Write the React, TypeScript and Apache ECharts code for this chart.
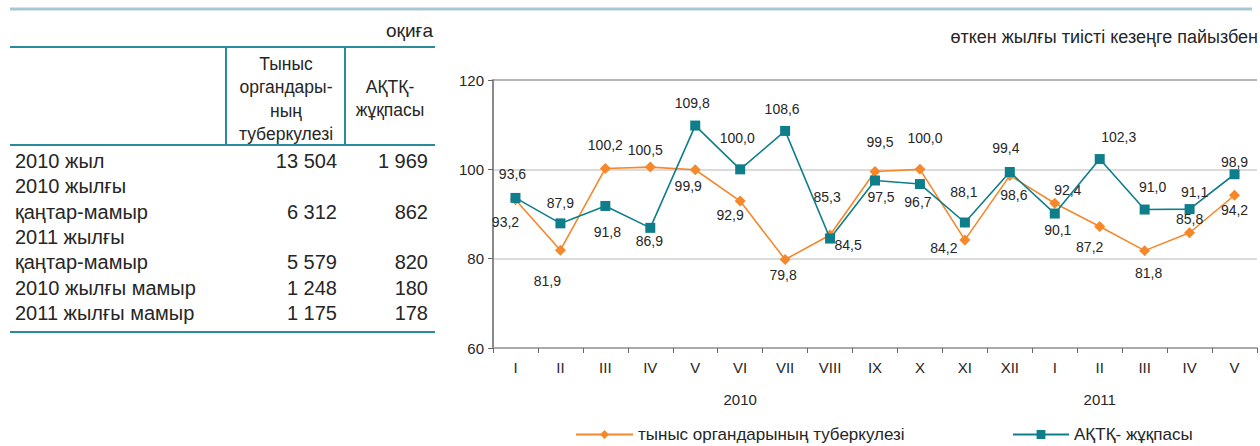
import React, { useEffect, useRef } from "react";
import * as echarts from "echarts";

// ---------- data ----------
const months = ["I", "II", "III", "IV", "V", "VI", "VII", "VIII", "IX", "X", "XI", "XII", "I", "II", "III", "IV", "V"];
const yearLabels = [
  { year: "2010", index: 5 },
  { year: "2011", index: 13 },
];
const seriesNames = ["тыныс органдарының туберкулезі", "АҚТҚ- жұқпасы"];
const tbValues = [93.2, 81.9, 100.2, 100.5, 99.9, 92.9, 79.8, 85.3, 99.5, 100.0, 84.2, 98.6, 92.4, 87.2, 81.8, 85.8, 94.2];
const hivValues = [93.6, 87.9, 91.8, 86.9, 109.8, 100.0, 108.6, 84.5, 97.5, 96.7, 88.1, 99.4, 90.1, 102.3, 91.0, 91.1, 98.9];

const tableUnit = "оқиға";
const chartUnit = "өткен жылғы тиісті кезеңге пайызбен";
const tableHeaders = [
  ["Тыныс", "органдары-", "ның", "туберкулезі"],
  ["АҚТҚ-", "жұқпасы"],
];
const tableRowLabels = [
  ["2010 жыл"],
  ["2010 жылғы", "қаңтар-мамыр"],
  ["2011 жылғы", "қаңтар-мамыр"],
  ["2010 жылғы мамыр"],
  ["2011 жылғы мамыр"],
];
const tableTbCounts = [13504, 6312, 5579, 1248, 1175];
const tableHivCounts = [1969, 862, 820, 180, 178];

// ---------- styles ----------
const FONT = "'Liberation Sans', Arial, sans-serif";
const ORANGE = "#F4882A";
const TEAL = "#0E7E8B";
const TABLE_LINE = "#2A8B9A";
const TEXT = "#262626";

// label offsets (px) relative to each point
const tbLabelOffsets = [
  [-10, 22], [-13, 31], [0, -23], [-5, -17], [-7, 16], [-10, 14], [-2, 15], [-3, -38],
  [5, -30], [5, -31], [-21, 8], [4, 19], [13, -13], [-10, 20], [4, 22], [0, -14], [0, 15],
];
const hivLabelOffsets = [
  [-3, -24], [0, -20], [2, 26], [-1, 13], [-3, -23], [-3, -31], [-3, -22], [18, 6],
  [6, 16], [-2, 18], [-1, -30], [-4, -24], [3, 16], [19, -22], [8, -23], [5, -17], [0, -12],
];

const fmtThousands = (n: number) => String(n).replace(/\B(?=(\d{3})+(?!\d))/g, " ");
const fmtComma = (v: number) => v.toFixed(1).replace(".", ",");

function buildGraphic() {
  const g: any[] = [];
  const line = (x1: number, y1: number, x2: number, y2: number, stroke: string, lw: number) =>
    g.push({ type: "line", silent: true, shape: { x1, y1, x2, y2 }, style: { stroke, lineWidth: lw } });
  const text = (t: string, x: number, y: number, size: number, align: string) =>
    g.push({
      type: "text",
      silent: true,
      x,
      y,
      style: { text: t, fill: TEXT, fontSize: size, fontFamily: FONT, align, verticalAlign: "middle" },
    });

  // top decorative line
  line(10, 9, 1252, 9, "#A7C8D3", 3);
  // table frame
  line(10, 47, 435, 47, TABLE_LINE, 2);
  line(10, 145, 435, 145, TABLE_LINE, 2);
  line(10, 332, 435, 332, TABLE_LINE, 2);
  line(226, 47, 226, 145, TABLE_LINE, 2);
  line(345, 47, 345, 145, TABLE_LINE, 2);

  text(tableUnit, 433, 30, 19, "right");
  text(chartUnit, 1258, 37, 18, "right");

  // headers
  tableHeaders[0].forEach((t, i) => text(t, 286, 64 + i * 23.3, 17.5, "center"));
  tableHeaders[1].forEach((t, i) => text(t, 390, 87 + i * 23.3, 17.5, "center"));

  // rows
  let y = 161;
  const step = 25.3;
  tableRowLabels.forEach((lines, r) => {
    lines.forEach((t, i) => text(t, 15, y + i * step, 20, "left"));
    const vy = y + (lines.length - 1) * step;
    text(fmtThousands(tableTbCounts[r]), 337, vy, 20, "right");
    text(fmtThousands(tableHivCounts[r]), 428, vy, 20, "right");
    y += lines.length * step;
  });
  return g;
}

export default function App() {
  const ref = useRef<HTMLDivElement>(null);

  useEffect(() => {
    if (!ref.current) return;
    const chart = echarts.init(ref.current, null, { renderer: "svg" });

    const labelBase = {
      show: true,
      position: "inside",
      color: TEXT,
      fontSize: 14,
      fontFamily: FONT,
      formatter: (p: any) => fmtComma(Number(p.value)),
    };

    const yearAxisData = months.map((_, i) => {
      const y = yearLabels.find((yl) => yl.index === i);
      return y ? y.year : "";
    });

    chart.setOption({
      animation: false,
      textStyle: { fontFamily: FONT },
      grid: { left: 493, right: 3, top: 80, bottom: 98, containLabel: false },
      legend: [
        {
          data: [seriesNames[0]],
          left: 575,
          top: 426,
          padding: 0,
          itemWidth: 57,
          itemHeight: 11,
          textStyle: { fontSize: 17, color: TEXT, fontFamily: FONT },
        },
        {
          data: [seriesNames[1]],
          left: 1012,
          top: 426,
          padding: 0,
          itemWidth: 56,
          itemHeight: 11,
          textStyle: { fontSize: 17, color: TEXT, fontFamily: FONT },
        },
      ],
      xAxis: [
        {
          type: "category",
          data: months,
          boundaryGap: true,
          axisLine: { lineStyle: { color: "#9A9A9A", width: 1.5 } },
          axisTick: { show: true, length: 5, lineStyle: { color: "#666" } },
          axisLabel: { fontSize: 15, color: TEXT, margin: 12, interval: 0 },
        },
        {
          type: "category",
          data: yearAxisData,
          position: "bottom",
          boundaryGap: true,
          axisLine: { show: false },
          axisTick: { show: false },
          axisLabel: { fontSize: 15, color: TEXT, margin: 44, interval: 0 },
        },
      ],
      yAxis: {
        type: "value",
        min: 60,
        max: 120,
        interval: 20,
        axisLine: { show: true, lineStyle: { color: "#8A8A8A", width: 2 } },
        axisTick: { show: true, length: 5, lineStyle: { color: "#666" } },
        axisLabel: { fontSize: 15, color: TEXT, margin: 9 },
        splitLine: { lineStyle: { color: ["#CFCFCF", "#CFCFCF", "#CFCFCF", "#9C9C9C"], width: 1.5 } },
      },
      graphic: buildGraphic(),
      series: [
        {
          name: seriesNames[0],
          type: "line",
          data: tbValues.map((v, i) => ({ value: v, label: { offset: tbLabelOffsets[i] } })),
          symbol: "diamond",
          symbolSize: 11,
          itemStyle: { color: ORANGE },
          lineStyle: { color: ORANGE, width: 1.6 },
          label: labelBase,
          z: 3,
        },
        {
          name: seriesNames[1],
          type: "line",
          data: hivValues.map((v, i) => ({ value: v, label: { offset: hivLabelOffsets[i] } })),
          symbol: "rect",
          symbolSize: 10,
          itemStyle: { color: TEAL },
          lineStyle: { color: TEAL, width: 1.6 },
          label: labelBase,
          z: 4,
        },
      ],
    });

    return () => chart.dispose();
  }, []);

  return (
    <div
      ref={ref}
      style={{ position: "absolute", left: 0, top: 0, width: 1260, height: 446, background: "#fff" }}
    />
  );
}
